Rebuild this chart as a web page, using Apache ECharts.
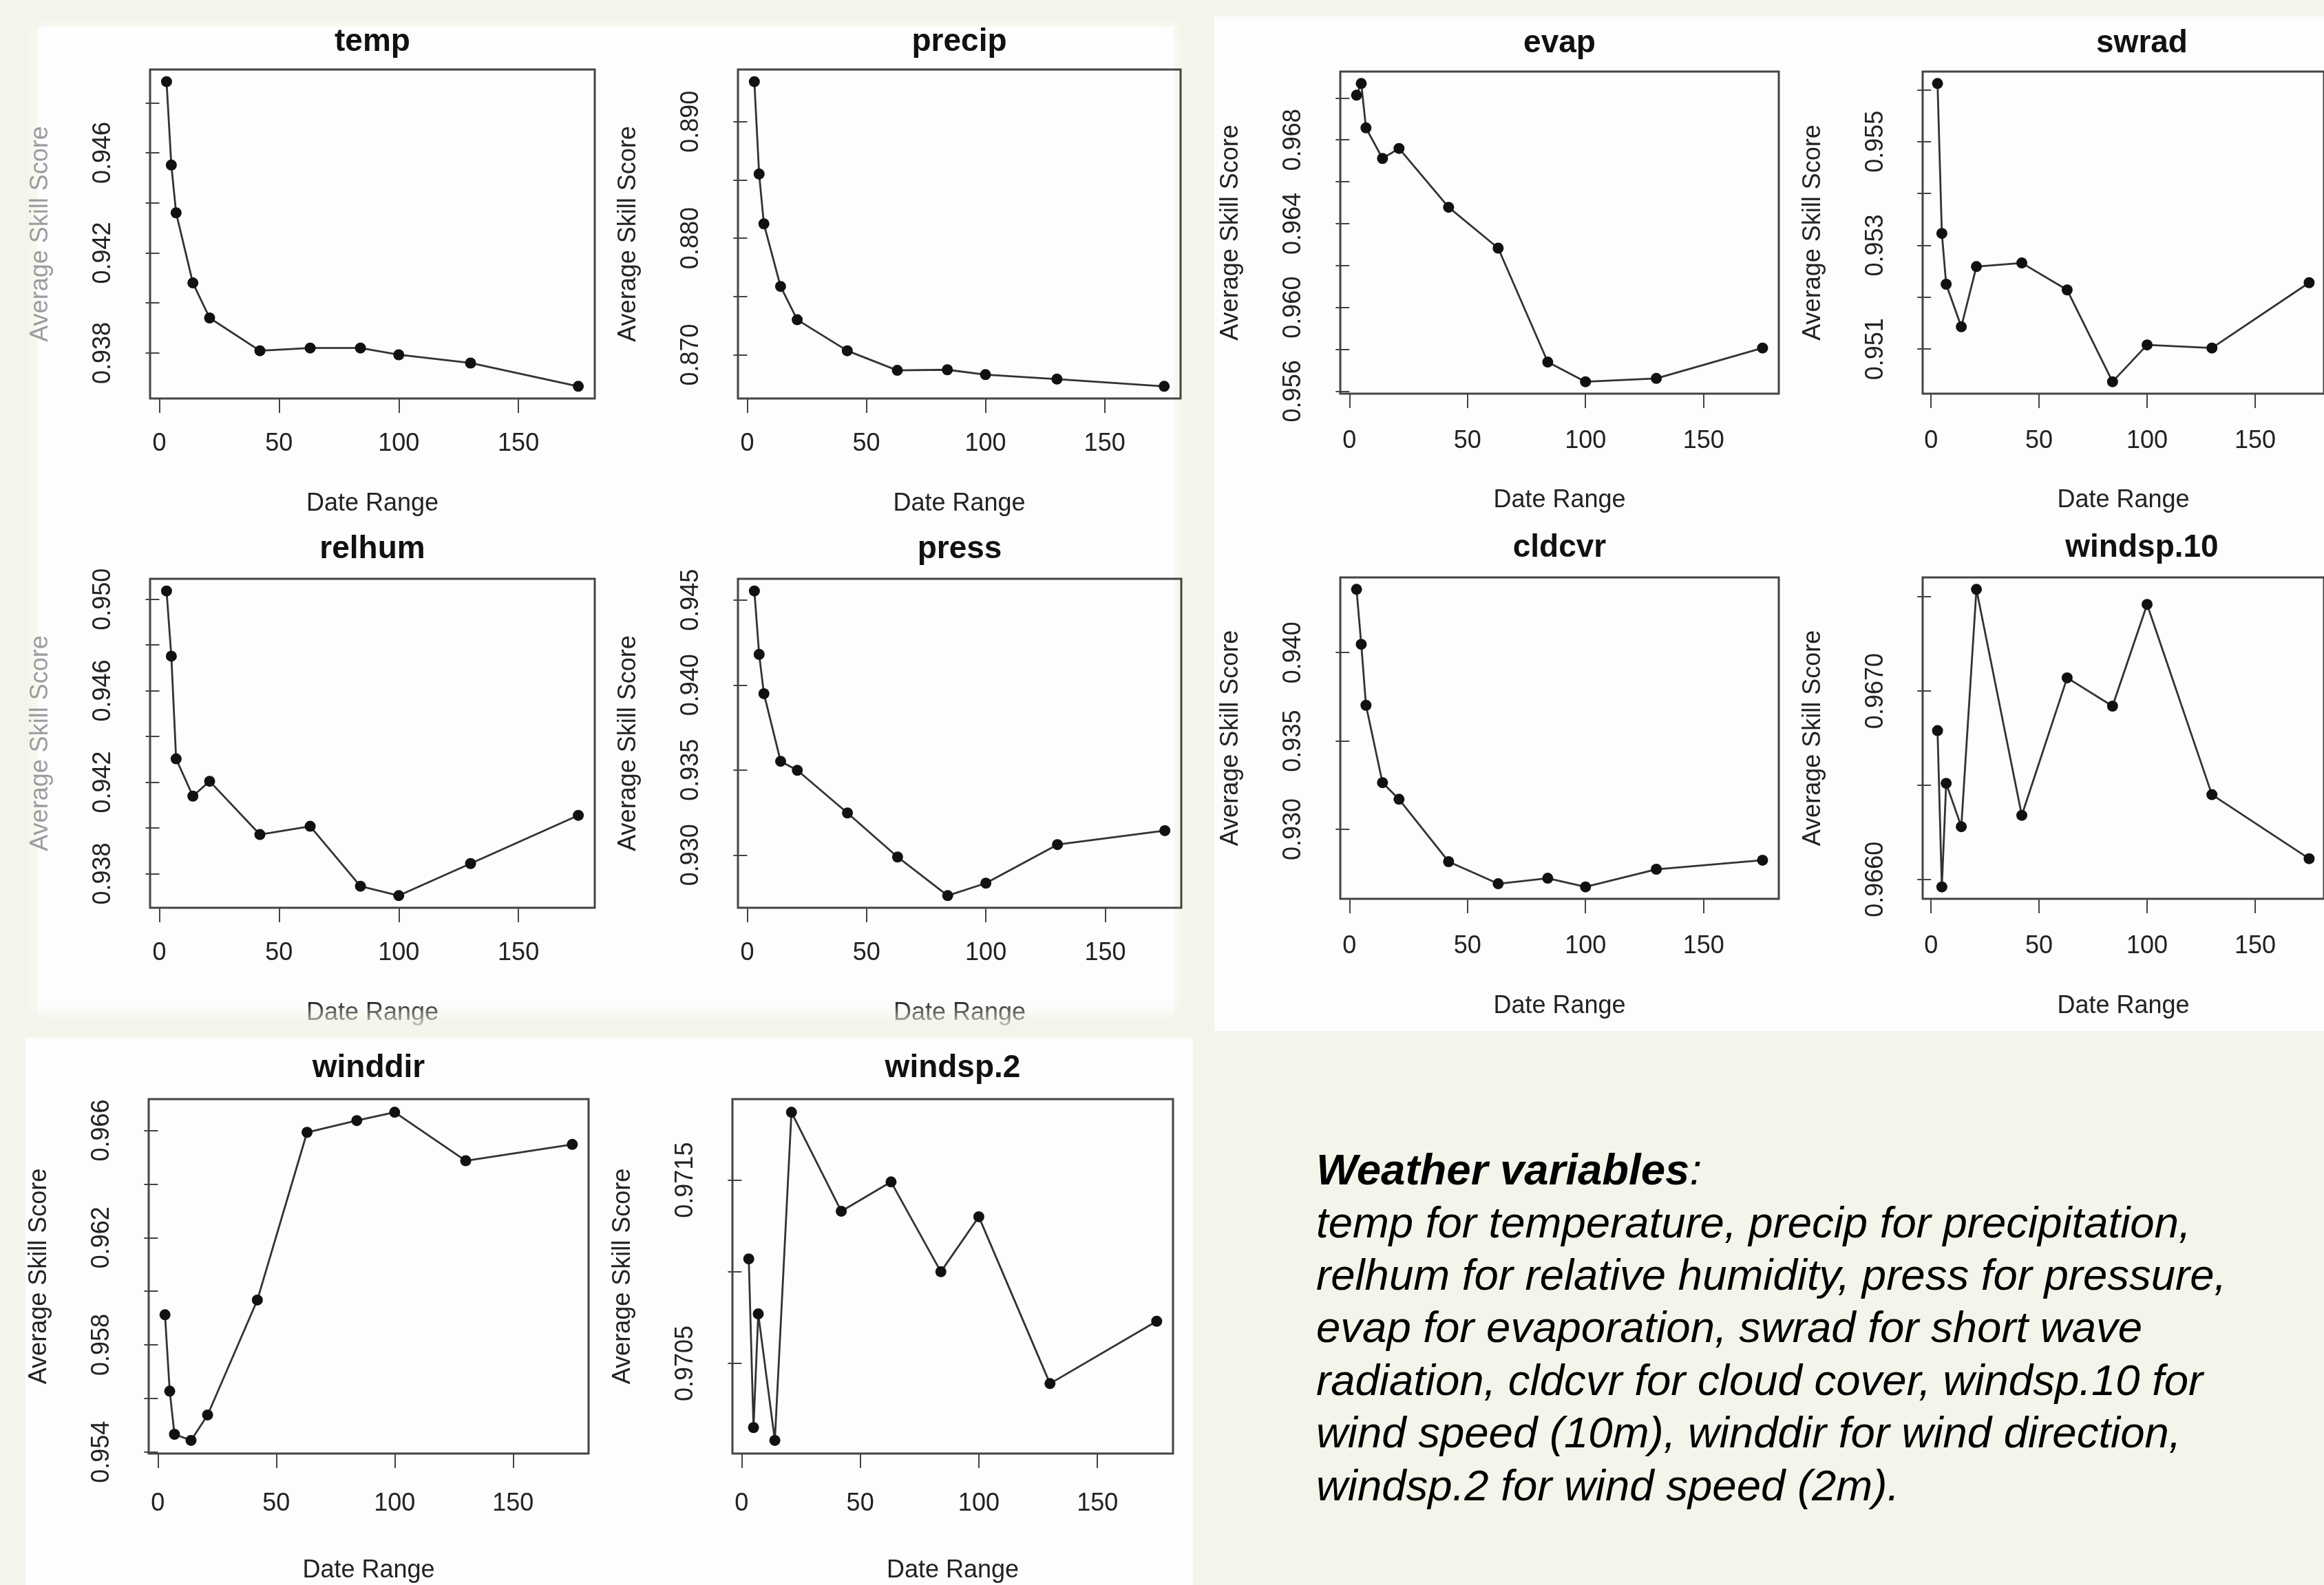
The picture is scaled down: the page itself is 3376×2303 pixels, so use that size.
<!DOCTYPE html>
<html>
<head>
<meta charset="utf-8">
<title>Average Skill Score vs Date Range</title>
<script src="https://cdn.jsdelivr.net/npm/echarts@6.0.0/dist/echarts.min.js"></script>
<style>
  html, body { margin: 0; padding: 0; background: #f2f6ea; }
  #chart { width: 3376px; height: 2303px; }
</style>
</head>
<body>
<div id="chart"></div>
<script>
// date ranges shared by every panel
const dateRange = [3, 5, 7, 14, 21, 42, 63, 84, 100, 130, 175];
const xTicks = [0, 50, 100, 150];

// average skill score per weather variable
const temp = [0.94884, 0.94551, 0.94360, 0.94080, 0.93940, 0.93809, 0.93820, 0.93820, 0.93793, 0.93760, 0.93667];
const precip = [0.89343, 0.88551, 0.88123, 0.87586, 0.87300, 0.87034, 0.86866, 0.86871, 0.86829, 0.86791, 0.86729];
const relhum = [0.95036, 0.94751, 0.94302, 0.94139, 0.94204, 0.93971, 0.94007, 0.93745, 0.93704, 0.93844, 0.94055];
const press = [0.94553, 0.94180, 0.93949, 0.93551, 0.93498, 0.93247, 0.92988, 0.92761, 0.92834, 0.93061, 0.93143];
const evap = [0.97013, 0.97069, 0.96857, 0.96711, 0.96759, 0.96478, 0.96283, 0.95739, 0.95645, 0.95661, 0.95806];
const swrad = [0.95612, 0.95323, 0.95225, 0.95143, 0.95259, 0.95266, 0.95214, 0.95037, 0.95108, 0.95102, 0.95228];
const cldcvr = [0.94358, 0.94047, 0.93702, 0.93264, 0.93170, 0.92817, 0.92692, 0.92723, 0.92674, 0.92774, 0.92825];
const windsp10 = [0.96679, 0.96596, 0.96651, 0.96628, 0.96754, 0.96634, 0.96707, 0.96692, 0.96746, 0.96645, 0.96611];
const winddir = [0.95912, 0.95627, 0.95466, 0.95443, 0.95538, 0.95967, 0.96593, 0.96637, 0.96668, 0.96487, 0.96548];
const windsp2 = [0.97107, 0.97015, 0.97077, 0.97008, 0.97187, 0.97133, 0.97149, 0.97100, 0.97130, 0.97039, 0.97073];

// y ticks and the labels R kept
const tempTicks = [0.938, 0.940, 0.942, 0.944, 0.946, 0.948];
const tempLabels = ['0.938', '0.942', '0.946'];
const precipTicks = [0.870, 0.875, 0.880, 0.885, 0.890];
const precipLabels = ['0.870', '0.880', '0.890'];
const relhumTicks = [0.938, 0.940, 0.942, 0.944, 0.946, 0.948, 0.950];
const relhumLabels = ['0.938', '0.942', '0.946', '0.950'];
const pressTicks = [0.930, 0.935, 0.940, 0.945];
const pressLabels = ['0.930', '0.935', '0.940', '0.945'];
const evapTicks = [0.956, 0.958, 0.960, 0.962, 0.964, 0.966, 0.968, 0.970];
const evapLabels = ['0.956', '0.960', '0.964', '0.968'];
const swradTicks = [0.951, 0.952, 0.953, 0.954, 0.955, 0.956];
const swradLabels = ['0.951', '0.953', '0.955'];
const cldcvrTicks = [0.930, 0.935, 0.940];
const cldcvrLabels = ['0.930', '0.935', '0.940'];
const windsp10Ticks = [0.9660, 0.9665, 0.9670, 0.9675];
const windsp10Labels = ['0.9660', '0.9670'];
const winddirTicks = [0.954, 0.956, 0.958, 0.960, 0.962, 0.964, 0.966];
const winddirLabels = ['0.954', '0.958', '0.962', '0.966'];
const windsp2Ticks = [0.9705, 0.9710, 0.9715];
const windsp2Labels = ['0.9705', '0.9715'];

const noteLines = [
  'temp for temperature, precip for precipitation,',
  'relhum for relative humidity, press for pressure,',
  'evap for evaporation, swrad for short wave',
  'radiation, cldcvr for cloud cover, windsp.10 for',
  'wind speed (10m), winddir for wind direction,',
  'windsp.2 for wind speed (2m).'
];

const plots = [
  { name: 'temp', y: temp, ticks: tempTicks, labels: tempLabels },
  { name: 'precip', y: precip, ticks: precipTicks, labels: precipLabels },
  { name: 'relhum', y: relhum, ticks: relhumTicks, labels: relhumLabels },
  { name: 'press', y: press, ticks: pressTicks, labels: pressLabels },
  { name: 'evap', y: evap, ticks: evapTicks, labels: evapLabels },
  { name: 'swrad', y: swrad, ticks: swradTicks, labels: swradLabels },
  { name: 'cldcvr', y: cldcvr, ticks: cldcvrTicks, labels: cldcvrLabels },
  { name: 'windsp.10', y: windsp10, ticks: windsp10Ticks, labels: windsp10Labels },
  { name: 'winddir', y: winddir, ticks: winddirTicks, labels: winddirLabels },
  { name: 'windsp.2', y: windsp2, ticks: windsp2Ticks, labels: windsp2Labels }
];

// plot boxes in page pixels (swrad / windsp.10 run off the right edge like the screenshot)
const boxes = [
  { left: 218, top: 101, width: 646, height: 478, tGap: 40, xLab: 48, xName: 135, faded: true },
  { left: 1072, top: 101, width: 643, height: 478, tGap: 40, xLab: 48, xName: 135 },
  { left: 218, top: 841, width: 646, height: 478, tGap: 43, xLab: 48, xName: 135, faded: true },
  { left: 1072, top: 841, width: 644, height: 478, tGap: 43, xLab: 48, xName: 135 },
  { left: 1947, top: 104, width: 637, height: 468, tGap: 41, xLab: 51, xName: 137 },
  { left: 2793, top: 104, width: 637, height: 468, tGap: 41, xLab: 51, xName: 137 },
  { left: 1947, top: 839, width: 637, height: 467, tGap: 43, xLab: 51, xName: 138 },
  { left: 2793, top: 839, width: 637, height: 467, tGap: 43, xLab: 51, xName: 138 },
  { left: 216, top: 1597, width: 639, height: 515, tGap: 45, xLab: 55, xName: 152 },
  { left: 1064, top: 1597, width: 640, height: 515, tGap: 45, xLab: 55, xName: 152 }
];

const FONT = '"Liberation Sans", Arial, Helvetica, sans-serif';
const INK = '#222';

// R pads the data range by 4% on each side
function rRange(v) {
  const lo = Math.min(...v), hi = Math.max(...v), pad = (hi - lo) * 0.04;
  return [lo - pad, hi + pad];
}
const xRange = rRange(dateRange);

const grid = [], xAxis = [], yAxis = [], series = [], graphic = [];

// white slide panels behind the plots
graphic.push(
  { type: 'rect', z: -10, shape: { x: 55, y: 39, width: 1650, height: 1434 },
    style: { fill: '#fdfdfd', shadowBlur: 18, shadowColor: 'rgba(255,255,255,0.9)' } },
  { type: 'rect', z: -10, shape: { x: 1764, y: 24, width: 1620, height: 1474 }, style: { fill: '#fdfdfd' } },
  { type: 'rect', z: -10, shape: { x: 37, y: 1508, width: 1696, height: 800 }, style: { fill: '#fdfdfd' } }
);

plots.forEach((p, i) => {
  const b = boxes[i];
  const labelNums = p.labels.map(Number);
  grid.push({
    left: b.left, top: b.top, width: b.width, height: b.height,
    show: true, borderColor: '#444', borderWidth: 3, backgroundColor: 'transparent'
  });
  xAxis.push({
    gridIndex: i, type: 'value', min: xRange[0], max: xRange[1],
    name: 'Date Range', nameLocation: 'middle', nameGap: b.xName,
    nameTextStyle: { fontFamily: FONT, fontSize: 36, color: INK },
    axisLine: { show: false },
    axisTick: { show: true, length: 21, customValues: xTicks, lineStyle: { color: '#444', width: 2 } },
    axisLabel: { customValues: xTicks, margin: b.xLab, fontFamily: FONT, fontSize: 36, color: INK },
    splitLine: { show: false }
  });
  const yr = rRange(p.y);
  yAxis.push({
    gridIndex: i, type: 'value', min: yr[0], max: yr[1],
    name: 'Average Skill Score', nameLocation: 'middle', nameGap: 141, nameRotate: 90,
    nameTextStyle: { fontFamily: FONT, fontSize: 36, color: b.faded ? '#9c9c9c' : INK },
    axisLine: { show: false },
    axisTick: { show: true, length: 20, customValues: p.ticks, lineStyle: { color: '#444', width: 2 } },
    axisLabel: {
      customValues: labelNums, rotate: 90, margin: 50,
      fontFamily: FONT, fontSize: 36, color: INK,
      formatter: v => {
        const k = labelNums.findIndex(n => Math.abs(n - v) < 1e-9);
        return k >= 0 ? p.labels[k] : '';
      }
    },
    splitLine: { show: false }
  });
  series.push({
    type: 'line', name: p.name, xAxisIndex: i, yAxisIndex: i,
    data: dateRange.map((d, j) => [d, p.y[j]]),
    symbol: 'circle', symbolSize: 16, showSymbol: true,
    itemStyle: { color: '#111' },
    lineStyle: { color: '#333', width: 2.8 }
  });
  graphic.push({
    type: 'text', x: b.left + b.width / 2, y: b.top - b.tGap,
    style: {
      text: p.name, fill: '#111', font: 'bold 46px ' + FONT,
      align: 'center', verticalAlign: 'middle', textAlign: 'center', textVerticalAlign: 'middle'
    }
  });
});

// lower edge of the top-left slide fades out over the "Date Range" labels
graphic.push({
  type: 'rect', z: 100, shape: { x: 30, y: 1456, width: 1710, height: 44 },
  style: {
    fill: new echarts.graphic.LinearGradient(0, 0, 0, 1, [
      { offset: 0, color: 'rgba(242,246,234,0)' },
      { offset: 1, color: 'rgba(242,246,234,1)' }
    ])
  }
});

// explanatory note
graphic.push({
  type: 'text', x: 1912, y: 1703,
  style: {
    text: '{b|Weather variables}{n|:}',
    rich: {
      b: { fontFamily: FONT, fontSize: 63.5, fontStyle: 'italic', fontWeight: 'bold', fill: '#000', color: '#000' },
      n: { fontFamily: FONT, fontSize: 63.5, fontStyle: 'italic', fill: '#000', color: '#000' }
    },
    verticalAlign: 'middle', textVerticalAlign: 'middle'
  }
});
noteLines.forEach((t, k) => {
  graphic.push({
    type: 'text', x: 1912, y: 1780 + k * 76.4,
    style: {
      text: t, fill: '#000', font: 'italic 63.5px ' + FONT,
      verticalAlign: 'middle', textVerticalAlign: 'middle'
    }
  });
});

const chart = echarts.init(document.getElementById('chart'), null, { renderer: 'canvas' });
chart.setOption({
  animation: false,
  backgroundColor: '#f2f6ea',
  grid, xAxis, yAxis, series, graphic
});
</script>
</body>
</html>
